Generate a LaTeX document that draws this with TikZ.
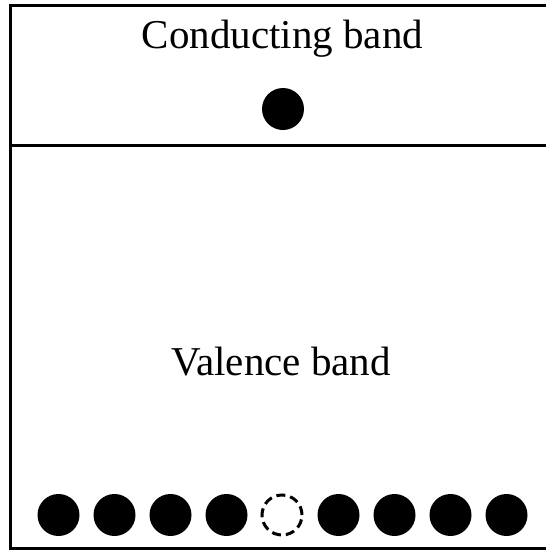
\documentclass[tikz,border=0pt]{standalone}
\usepackage{fontspec}
\setmainfont{Liberation Serif}
\usetikzlibrary{positioning}
\tikzset{
  bandline/.style={draw=black,line width=3pt},
  electron/.style={circle,fill=black,inner sep=0pt,minimum size=42pt},
  hole/.style={circle,draw=black,line width=3pt,dash pattern=on 9pt off 5pt,
               inner sep=0pt,minimum size=40pt},
  bandlabel/.style={font=\fontsize{41}{48}\selectfont,anchor=base,inner sep=0pt}
}
\begin{document}
\begin{tikzpicture}[x=1pt,y=-1pt]
\useasboundingbox (0,0) rectangle (546,550);

\draw[bandline] (546,5.5) -| (10.5,548) -- (546,548);
\draw[bandline] (10.5,145) -- (546,145);

\node[bandlabel] (cb) at (282.5,48) {Conducting band};
\node[electron] (ce) at (283,109) {};

\node[bandlabel] (vb) at (281,375) {Valence band};
\foreach \i in {0,1,2,3,5,6,7,8}
  \node[electron] (v\i) at ({58.5+56*\i},515) {};
\node[hole] (v4) at (282,515) {};
\end{tikzpicture}
\end{document}
